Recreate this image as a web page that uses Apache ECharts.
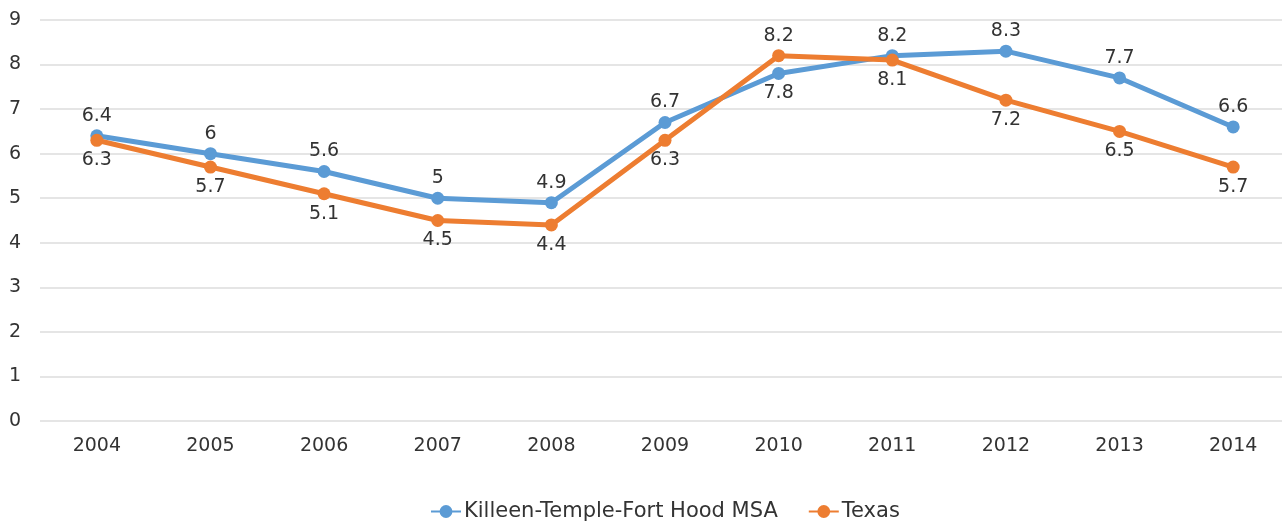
<!DOCTYPE html>
<html>
<head>
<meta charset="utf-8">
<script src="https://cdn.jsdelivr.net/npm/echarts@6/dist/echarts.min.js"></script>
<style>
  html, body { margin: 0; padding: 0; background: #fff; overflow: hidden; }
  #chart { width: 1290px; height: 522px; }
</style>
</head>
<body>
<div id="chart"></div>
<script>
// Unemployment rate, percent
const years = ['2004', '2005', '2006', '2007', '2008', '2009', '2010', '2011', '2012', '2013', '2014'];
const killeen = [6.4, 6, 5.6, 5, 4.9, 6.7, 7.8, 8.2, 8.3, 7.7, 6.6];
const texas = [6.3, 5.7, 5.1, 4.5, 4.4, 6.3, 8.2, 8.1, 7.2, 6.5, 5.7];
const yTicks = [0, 1, 2, 3, 4, 5, 6, 7, 8, 9];

// label placement per point: Killeen above except 2010, Texas below except 2010
const killeenPos = years.map(y => y === '2010' ? 'bottom' : 'top');
const texasPos = years.map(y => y === '2010' ? 'top' : 'bottom');

const FONT = 'DejaVu Sans';
const TEXT = '#333333';

function pointData(values, positions) {
  return values.map((v, i) => ({ value: v, label: { position: positions[i] } }));
}

const chart = echarts.init(document.getElementById('chart'));
chart.setOption({
  animation: false,
  textStyle: { fontFamily: FONT },
  grid: { left: 40, top: 20, right: 0, bottom: 101, containLabel: false },
  legend: {
    top: 496,
    left: 425,
    itemWidth: 30,
    itemHeight: 16,
    itemGap: 30,
    textStyle: { fontFamily: FONT, fontSize: 21, color: TEXT, padding: [0, 0, 0, -2] },
    data: ['Killeen-Temple-Fort Hood MSA', 'Texas']
  },
  xAxis: {
    type: 'category',
    data: years,
    boundaryGap: true,
    axisLine: { show: false },
    axisTick: { show: false },
    axisLabel: { color: TEXT, fontSize: 19, margin: 16, fontFamily: FONT }
  },
  yAxis: {
    type: 'value',
    min: yTicks[0],
    max: yTicks[yTicks.length - 1],
    interval: 1,
    axisLine: { show: false },
    axisTick: { show: false },
    axisLabel: { color: TEXT, fontSize: 19, margin: 25, fontFamily: FONT, align: 'center' },
    splitLine: { lineStyle: { color: '#dcdcdc', width: 1.5 } }
  },
  series: [
    {
      name: 'Killeen-Temple-Fort Hood MSA',
      type: 'line',
      data: pointData(killeen, killeenPos),
      color: '#5B9BD5',
      symbol: 'circle',
      symbolSize: 13,
      lineStyle: { width: 5 },
      label: { show: true, color: TEXT, fontSize: 19, distance: 4, fontFamily: FONT }
    },
    {
      name: 'Texas',
      type: 'line',
      data: pointData(texas, texasPos),
      color: '#ED7D31',
      symbol: 'circle',
      symbolSize: 13,
      lineStyle: { width: 5 },
      label: { show: true, color: TEXT, fontSize: 19, distance: 4, fontFamily: FONT }
    }
  ]
});
</script>
</body>
</html>
